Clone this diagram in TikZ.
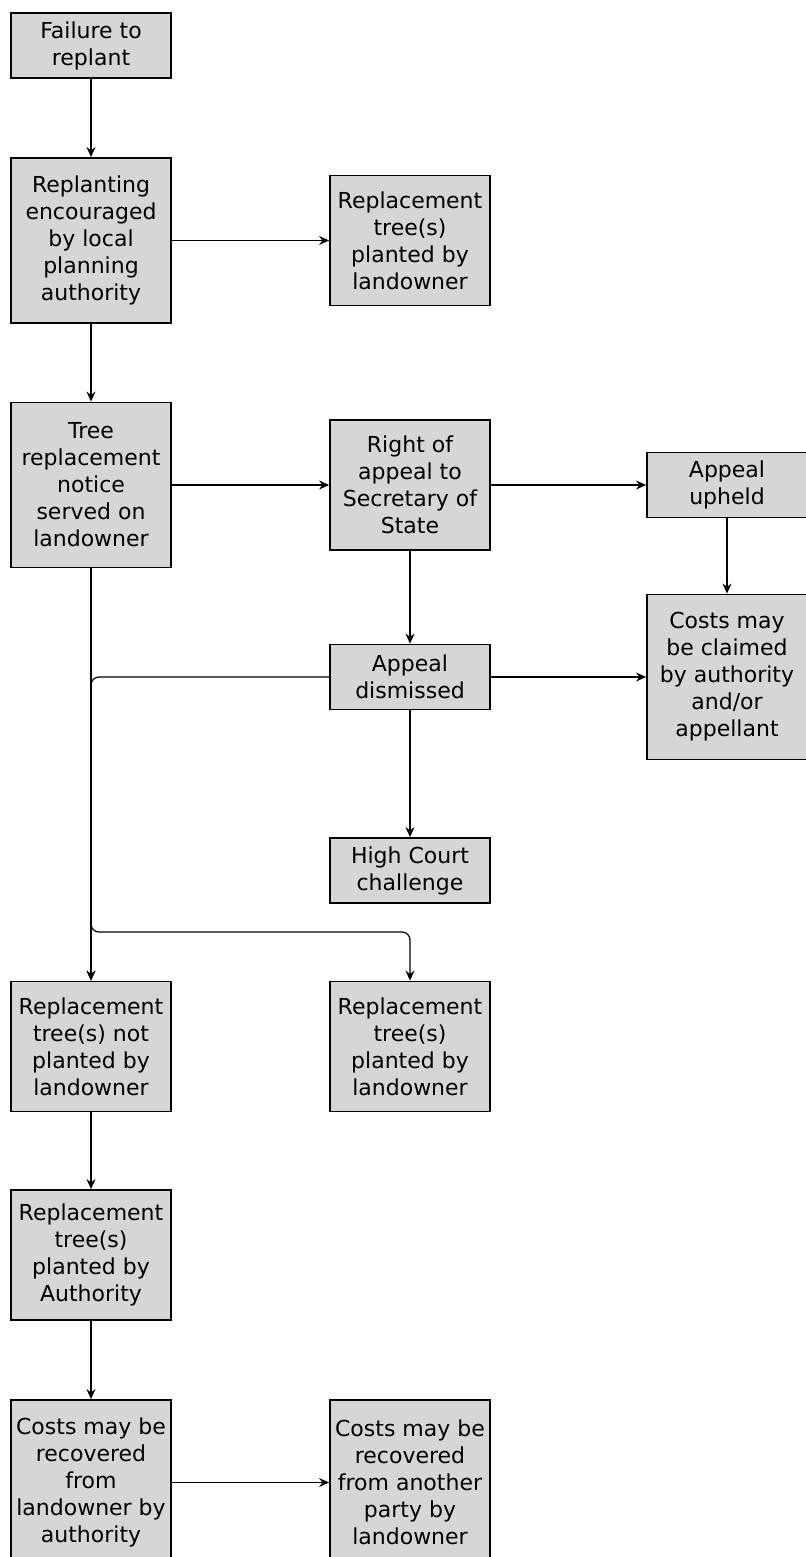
\documentclass[tikz,border=0pt]{standalone}
\usepackage{fontspec}
\setmainfont{DejaVu Sans}
\usepackage{xcolor}
\usepackage{tikz}
\usetikzlibrary{arrows.meta}

\definecolor{boxgray}{gray}{0.84}

\begin{document}
\begin{tikzpicture}[
    x = 0.5pt, y = -0.5pt, % one unit is one pixel of the page
    > = {Stealth[length=5pt,width=4.5pt]}, % arrow head style
    line width = 0.6pt % line style
]
\tikzstyle{box}=[
    draw = black,
    line width = 0.9pt,
    fill = boxgray,
    minimum width = 80pt,
    inner sep = 1pt,
    align = center,
    font = \fontsize{11}{13.5}\selectfont
]
\tikzstyle{two}=[minimum height = 32.5pt]
\tikzstyle{four}=[minimum height = 65pt]
\tikzstyle{five}=[minimum height = 82.5pt]

\useasboundingbox (0,0) rectangle (806,1557);

% left column
\node[box, two]  (failure)     at (91,45.5)   {Failure to\\replant};
\node[box, five] (encouraged)  at (91,240.5)  {Replanting\\encouraged\\by local\\planning\\authority};
\node[box, five] (notice)      at (91,485)    {Tree\\replacement\\notice\\served on\\landowner};
\node[box, four] (notplanted)  at (91,1046.5) {Replacement\\tree(s) not\\planted by\\landowner};
\node[box, four] (byauthority) at (91,1255)   {Replacement\\tree(s)\\planted by\\Authority};
\node[box, five] (recovered)   at (91,1482.5) {Costs may be\\recovered\\from\\landowner by\\authority};

% middle column
\node[box, four] (plantedtop)  at (410,240.5)  {Replacement\\tree(s)\\planted by\\landowner};
\node[box, four] (appeal)      at (410,485)    {Right of\\appeal to\\Secretary of\\State};
\node[box, two]  (dismissed)   at (410,677)    {Appeal\\dismissed};
\node[box, two]  (highcourt)   at (410,870.5)  {High Court\\challenge};
\node[box, four] (plantedlow)  at (410,1046.5) {Replacement\\tree(s)\\planted by\\landowner};
\node[box, five] (otherparty)  at (410,1482.5) {Costs may be\\recovered\\from another\\party by\\landowner};

% right column
\node[box, two]  (upheld)      at (727,485)   {Appeal\\upheld};
\node[box, five] (claimed)     at (727,677)   {Costs may\\be claimed\\by authority\\and/or\\appellant};

\coordinate (fork) at (410,932);

\path[->] (failure) edge (encouraged);
\path[->] (encouraged) edge (plantedtop);
\path[->] (encouraged) edge (notice);
\path[->] (notice) edge (appeal);
\path[->] (appeal) edge (upheld);
\path[->] (appeal) edge (dismissed);
\path[->] (upheld) edge (claimed);
\path[->] (dismissed) edge (claimed);
\path[->] (dismissed) edge (highcourt);
\path[->] (notice) edge (notplanted);
\path[->] (notplanted) edge (byauthority);
\path[->] (byauthority) edge (recovered);
\path[->] (recovered) edge (otherparty);

\draw[->, rounded corners=4pt] (dismissed.west) -| (notplanted.north);
\draw[->, rounded corners=4pt] (notice.south) |- (fork) -- (plantedlow.north);

\end{tikzpicture}
\end{document}
